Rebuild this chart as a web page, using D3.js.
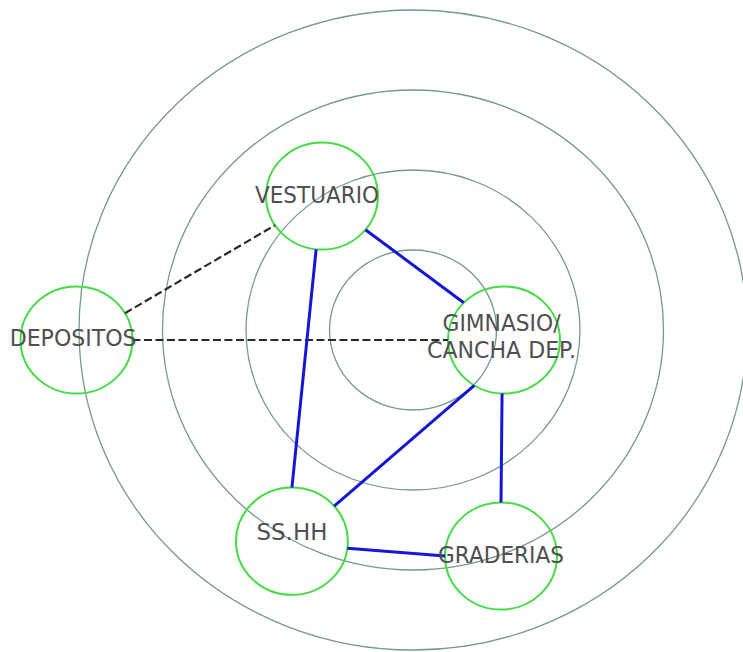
<!DOCTYPE html>
<html><head><meta charset="utf-8">
<script src="https://cdn.jsdelivr.net/npm/d3@7"></script>
<style>html,body{margin:0;padding:0;background:#fff;}svg{display:block;}</style>
</head><body>
<svg id="chart" width="743" height="652"></svg>
<script>
// Concentric zone rings (radius in units)
const rings = [1, 2, 3, 4];
// Nodes: name, label lines, centre (units), label baseline offset (units)
const nodeNames = ["DEPOSITOS", "VESTUARIO", "GIMNASIO", "SSHH", "GRADERIAS"];
const nodeLabels = [["DEPOSITOS"], ["VESTUARIO"], ["GIMNASIO/", "CANCHA DEP."], ["SS.HH"], ["GRADERIAS"]];
const nodeX = [-4.03, -1.09, 1.09, -1.45, 1.054];
const nodeY = [0.125, -1.675, 0.125, 2.64, 2.825];
const labelDx = [-0.04, -0.06, -0.03, 0.0, 0.0];
const labelDy = [0.08, 0.09, -0.05, -0.01, 0.09];
const labelWidths = [[127], [124], [118, 149], [71], [126]];
const nodeRadius = 0.67;
// Strong relations (solid blue): source, target, angle on source, angle on target (deg)
const strongLinks = [
  ["VESTUARIO", "GIMNASIO", 39, 224],
  ["VESTUARIO", "SSHH", 96, 270],
  ["GIMNASIO", "SSHH", 122, 319],
  ["GIMNASIO", "GRADERIAS", 92, 270],
  ["SSHH", "GRADERIAS", 7.5, 180]
];
// Weak relations (dashed)
const weakLinks = [
  ["DEPOSITOS", "VESTUARIO", 330, 147],
  ["DEPOSITOS", "GIMNASIO", 0, 180]
];

const svg = d3.select("#chart");
const cx = 413, cy = 330;
const x = d3.scaleLinear().domain([0, 1]).range([cx, cx + 83.5]);
const y = d3.scaleLinear().domain([0, 1]).range([cy, cy + 80]);
const rx = r => x(r) - x(0);
const ry = r => y(r) - y(0);

// Rings
svg.append("g").selectAll("ellipse").data(rings).join("ellipse")
  .attr("cx", x(0)).attr("cy", y(0))
  .attr("rx", d => rx(d)).attr("ry", d => ry(d))
  .attr("fill", "none").attr("stroke", "#739a90").attr("stroke-width", 1.3);

const nodes = nodeNames.map((n, i) => ({name: n, x: nodeX[i], y: nodeY[i], label: nodeLabels[i], w: labelWidths[i], dx: labelDx[i], dy: labelDy[i]}));
const byName = Object.fromEntries(nodes.map(d => [d.name, d]));
const pt = (node, ang) => {
  const a = ang * Math.PI / 180;
  return [x(node.x + nodeRadius * Math.cos(a)), y(node.y + nodeRadius * Math.sin(a))];
};

// Node circles
svg.append("g").selectAll("ellipse").data(nodes).join("ellipse")
  .attr("cx", d => x(d.x)).attr("cy", d => y(d.y))
  .attr("rx", rx(nodeRadius)).attr("ry", ry(nodeRadius))
  .attr("fill", "none").attr("stroke", "#44dc44").attr("stroke-width", 2);

// Links
svg.append("g").selectAll("line").data(weakLinks).join("line")
  .each(function(d) {
    const p1 = pt(byName[d[0]], d[2]), p2 = pt(byName[d[1]], d[3]);
    d3.select(this).attr("x1", p1[0]).attr("y1", p1[1]).attr("x2", p2[0]).attr("y2", p2[1]);
  })
  .attr("stroke", "#2a2a2a").attr("stroke-width", 2.2).attr("stroke-dasharray", "8,3.5");

svg.append("g").selectAll("line").data(strongLinks).join("line")
  .each(function(d) {
    const p1 = pt(byName[d[0]], d[2]), p2 = pt(byName[d[1]], d[3]);
    d3.select(this).attr("x1", p1[0]).attr("y1", p1[1]).attr("x2", p2[0]).attr("y2", p2[1]);
  })
  .attr("stroke", "#1616d6").attr("stroke-width", 3);

// Labels
const lg = svg.append("g");
nodes.forEach(d => {
  const n = d.label.length;
  d.label.forEach((t, j) => {
    const base = y(d.y + d.dy) + (j - (n - 1)) * 27 + (n > 1 ? 22 : 0);
    lg.append("text")
      .attr("x", x(d.x + d.dx)).attr("y", base)
      .attr("text-anchor", "middle")
      .attr("font-family", "DejaVu Sans, sans-serif")
      .attr("font-size", 23)
      .attr("fill", "#505050")
      .attr("textLength", d.w[j]).attr("lengthAdjust", "spacingAndGlyphs")
      .text(t);
  });
});
</script>
</body></html>
